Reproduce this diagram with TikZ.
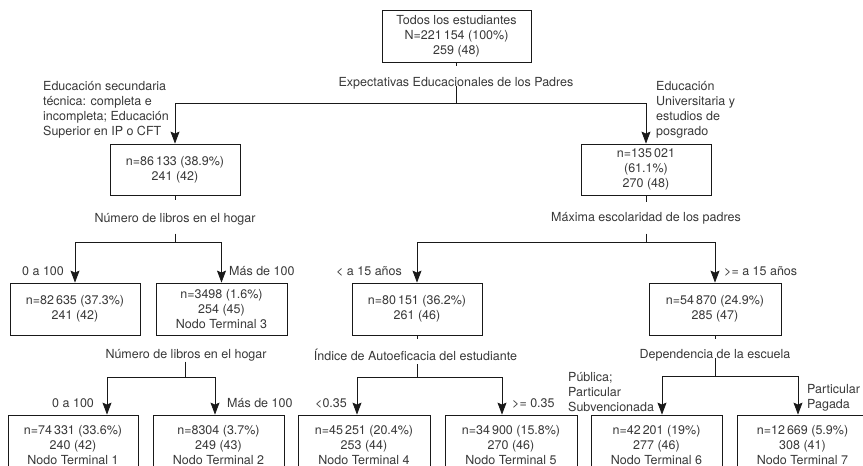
\documentclass[tikz,border=0pt]{standalone}
\usepackage{fontspec}
\setmainfont{TeX Gyre Heros}
\usetikzlibrary{arrows.meta}
\begin{document}
\begin{tikzpicture}[x=1pt,y=-1pt,
  every node/.style={font=\fontsize{12.5}{15}\selectfont, text=black!78, inner sep=0pt},
  box/.style n args={2}{draw=black!90, line width=0.8pt, minimum width=#1pt, minimum height=#2pt, align=center},
  lab/.style={anchor=west, align=left},
  conn/.style={draw=black!90, line width=0.8pt},
  arr/.style={conn, -{Stealth[length=12pt,width=9pt,inset=2pt]}}
]
\useasboundingbox (0,0) rectangle (863,466);
\clip (0,0) rectangle (863,466);

% boxes
\node[box={149}{52}] (root) at (456.5,36) {Todos los estudiantes\\N=221\,154 (100\%)\\259 (48)};
\node[box={130}{51}] (A) at (175,169.5) {n=86\,133 (38.9\%)\\241 (42)};
\node[box={130}{51}] (B) at (646,169.5) {n=135\,021\\(61.1\%)\\270 (48)};
\node[box={130}{52}] (C) at (75,309) {n=82\,635 (37.3\%)\\241 (42)};
\node[box={131}{52}] (D) at (221.5,309) {n=3498 (1.6\%)\\254 (45)\\Nodo Terminal 3};
\node[box={130}{52}] (E) at (417,309) {n=80\,151 (36.2\%)\\261 (46)};
\node[box={132}{52}] (F) at (715,309) {n=54\,870 (24.9\%)\\285 (47)};
\node[box={130}{60}] (G) at (73,445) {n=74\,331 (33.6\%)\\240 (42)\\Nodo Terminal 1};
\node[box={131}{60}] (H) at (218.5,445) {n=8304 (3.7\%)\\249 (43)\\Nodo Terminal 2};
\node[box={132}{60}] (I) at (364,445) {n=45\,251 (20.4\%)\\253 (44)\\Nodo Terminal 4};
\node[box={132}{60}] (J) at (511,445) {n=34\,900 (15.8\%)\\270 (46)\\Nodo Terminal 5};
\node[box={131}{60}] (K) at (656.5,445) {n=42\,201 (19\%)\\277 (46)\\Nodo Terminal 6};
\node[box={131}{60}] (L) at (802.5,445) {n=12\,669 (5.9\%)\\308 (41)\\Nodo Terminal 7};

% split variable labels
\node (s1) at (456,83) {Expectativas Educacionales de los Padres};
\node (s2) at (175,219) {Número de libros en el hogar};
\node (s3) at (646,218) {Máxima escolaridad de los padres};
\node (s4) at (186,355) {Número de libros en el hogar};
\node (s5) at (415.5,355) {Índice de Autoeficacia del estudiante};
\node (s6) at (715,355) {Dependencia de la escuela};

% junctions
\coordinate (j1) at (456,103);
\coordinate (j2) at (175,242);
\coordinate (j3) at (646,242);
\coordinate (j4) at (185,377);
\coordinate (j5) at (417,377);
\coordinate (j6) at (715,376);

% connectors
\draw[conn] (root.south) -- ++(0,4);
\draw[conn] (s1.base -| j1) -- (j1);
\draw[arr] (j1) -| (A.north);
\draw[arr] (j1) -| (B.north);

\draw[conn] (A.south) -- ++(0,5);
\draw[conn] ([yshift=-11.5pt]s2.base -| j2) -- (j2);
\draw[arr] (j2) -| (C.north);
\draw[arr] (j2) -| (D.north);

\draw[conn] (B.south) -- ++(0,7);
\draw[conn] ([yshift=-12.5pt]s3.base -| j3) -- (j3);
\draw[arr] (j3) -| (E.north);
\draw[arr] (j3) -| (F.north);

\draw[conn] ([yshift=-3.5pt]s4.base -| j4) -- (j4);
\draw[arr] (j4) -| ([xshift=34pt]G.north);
\draw[arr] (j4) -| ([xshift=-3.5pt]H.north);

\draw[conn] (E.south) -- ++(0,4);
\draw[conn] ([yshift=-3.5pt]s5.base -| j5) -- (j5);
\draw[arr] (j5) -| ([xshift=-7pt]I.north);
\draw[arr] (j5) -| ([xshift=-9pt]J.north);

\draw[conn] (F.south) -- ++(0,4);
\draw[conn] (s6.base -| j6) -- (j6);
\draw[arr] (j6) -| ([xshift=5.5pt]K.north);
\draw[arr] (j6) -| ([xshift=-4.5pt]L.north);

% branch labels
\node[lab] (l1) at (43,109.5) {Educación secundaria\\técnica: completa e\\incompleta; Educación\\Superior en IP o CFT};
\node[lab] (l2) at (656,109.5) {Educación\\Universitaria y\\estudios de\\posgrado};
\node[lab] (l3) at (22,271) {0 a 100};
\node[lab] (l4) at (229,271) {Más de 100};
\node[lab] (l5) at (336,271) {< a 15 años};
\node[lab] (l6) at (724,271) {>= a 15 años};
\node[lab] (l7) at (52,403) {0 a 100};
\node[lab] (l8) at (227,403) {Más de 100};
\node[lab] (l9) at (315,403) {<0.35};
\node[lab] (l10) at (512,403) {>= 0.35};
\node[lab] (l11) at (568,392) {Pública;\\Particular\\Subvencionada};
\node[lab] (l12) at (807,398) {Particular\\Pagada};
\end{tikzpicture}
\end{document}
